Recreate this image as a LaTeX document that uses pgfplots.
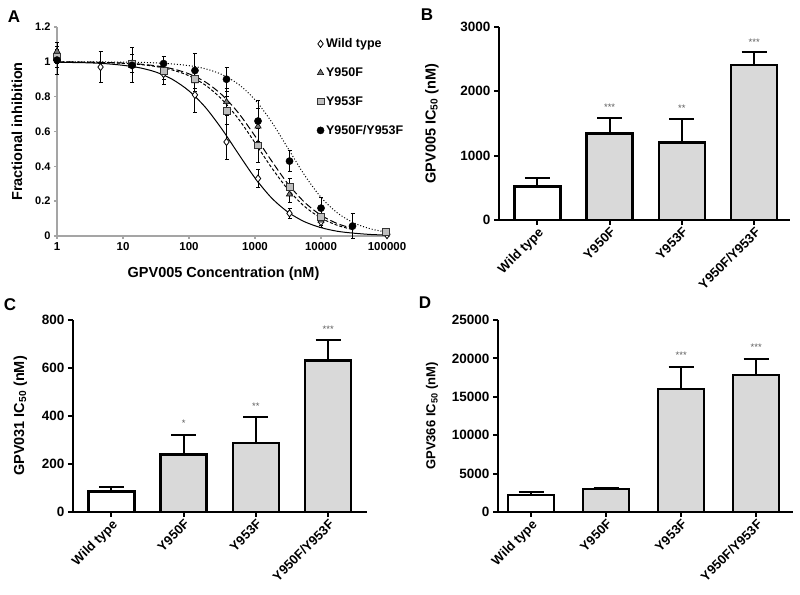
\documentclass[border=0pt]{standalone}
\usepackage{fontspec}
\setmainfont{Liberation Sans}
\usepackage{pgfplots}
\pgfplotsset{compat=1.18}
\definecolor{axgrey}{RGB}{165,165,165}
\definecolor{barfill}{RGB}{217,217,217}
\definecolor{sqfill}{RGB}{190,190,190}
\definecolor{trifill}{RGB}{120,120,120}
\definecolor{stargrey}{RGB}{95,95,95}
\tikzset{stars/.style={text=stargrey, font=\fontsize{9.5}{9.5}\selectfont}}
\pgfplotsset{
  barpanel/.style={
    scale only axis, anchor=south west,
    axis lines=left, axis line style={-, line width=2pt},
    ybar, bar width=46pt, bar shift=0pt,
    xtick={0,1,2,3}, xticklabels={Wild type,Y950F,Y953F,Y950F/Y953F},
    xticklabel style={rotate=45, anchor=north east, font=\bfseries\fontsize{13}{13}\selectfont, inner sep=1pt},
    yticklabel style={font=\bfseries\fontsize{13.5}{13.5}\selectfont},
    tick align=outside, major tick length=5pt, tick style={black, line width=2pt},
    scaled y ticks=false, /pgf/number format/1000 sep={},
    /pgf/number format/assume math mode=true,
    ylabel style={font=\bfseries\fontsize{14.5}{14.5}\selectfont},
    ymin=0, clip=false,
  },
  errb/.style={error bars/.cd, y dir=plus, y explicit,
    error bar style={line width=2.2pt, black},
    error mark options={rotate=90, line width=2.2pt, black, mark size=12.5pt}},
  wtbar/.style={draw=black, line width=2.5pt, fill=white, bar shift=0pt},
  mutbar/.style={draw=black, line width=2.5pt, fill=barfill, bar shift=0pt},
  aerr/.style={error bars/.cd, y dir=both, y explicit,
    error bar style={line width=0.9pt, black},
    error mark options={rotate=90, line width=0.9pt, black, mark size=2pt}},
}
\begin{document}
\begin{tikzpicture}
\useasboundingbox (0,0) rectangle (800pt,594pt);
% ---------------- Panel A ----------------
\begin{axis}[
  at={(57pt,358pt)}, anchor=south west,
  scale only axis, width=333pt, height=209pt,
  xmode=log, xmin=1, xmax=111000, ymin=0, ymax=1.2,
  axis lines=left, axis line style={-, draw=axgrey, line width=2.5pt},
  xtick={1,10,100,1000,10000,100000},
  xticklabels={1,10,100,1000,10000,100000},
  ytick={0,0.2,0.4,0.6,0.8,1,1.2},
  yticklabels={0,0.2,0.4,0.6,0.8,1,1.2},
  xminorticks=false,
  tick align=outside, major tick length=3pt, tick style={draw=axgrey, line width=1.5pt},
  xticklabel style={font=\bfseries\fontsize{11.5}{11.5}\selectfont},
  yticklabel style={font=\bfseries\fontsize{11}{11}\selectfont},
  /pgf/number format/assume math mode=true,
  xlabel={GPV005 Concentration (nM)}, ylabel={Fractional inhibition},
  label style={font=\bfseries\fontsize{14.5}{14.5}\selectfont},
  xlabel style={yshift=-9pt}, ylabel style={yshift=6pt},
  clip=false,
  legend style={draw=none, fill=none, at={(0.78,0.955)}, anchor=north west,
    font=\bfseries\fontsize{12.5}{12.5}\selectfont, row sep=14.5pt, inner sep=0pt},
  legend cell align=left,
]
% fitted curves
\addplot[black, line width=1pt, smooth, forget plot] coordinates {
(1,0.998)(1.778,0.996)(3.162,0.994)(5.623,0.989)(10,0.980)(17.78,0.966)(31.62,0.941)(56.23,0.899)(100,0.833)(177.8,0.738)(316.2,0.613)(562.3,0.471)(1000,0.333)(1778,0.219)(3162,0.137)(5623,0.082)(10000,0.048)(17783,0.027)(31623,0.016)(56234,0.0088)(100000,0.005)};
\addplot[black, line width=1pt, smooth, dash pattern=on 7pt off 3pt, forget plot] coordinates {
(1,0.999)(1.778,0.999)(3.162,0.998)(5.623,0.996)(10,0.993)(17.78,0.987)(31.62,0.977)(56.23,0.960)(100,0.931)(177.8,0.884)(316.2,0.810)(562.3,0.706)(1000,0.574)(1778,0.432)(3162,0.299)(5623,0.194)(10000,0.119)(17783,0.071)(31623,0.041)};
\addplot[black, line width=1pt, smooth, dash pattern=on 3pt off 2pt, forget plot] coordinates {
(1,0.999)(1.778,0.998)(3.162,0.997)(5.623,0.995)(10,0.991)(17.78,0.985)(31.62,0.973)(56.23,0.953)(100,0.920)(177.8,0.866)(316.2,0.784)(562.3,0.672)(1000,0.535)(1778,0.393)(3162,0.267)(5623,0.170)(10000,0.103)(17783,0.061)(31623,0.035)};
\addplot[black, line width=1pt, smooth, dotted, forget plot] coordinates {
(1,1.000)(1.778,1.000)(3.162,1.000)(5.623,0.999)(10,0.998)(17.78,0.997)(31.62,0.994)(56.23,0.988)(100,0.978)(177.8,0.960)(316.2,0.927)(562.3,0.871)(1000,0.782)(1778,0.656)(3162,0.503)(5623,0.350)(10000,0.222)(17783,0.132)(31623,0.075)(56234,0.041)(100000,0.022)};
% data points
\addplot[only marks, mark=diamond*, mark size=3.6pt, mark options={fill=white, draw=black, line width=0.8pt}, aerr] coordinates {
(1,1.02) +- (0,0.05)
(4.57,0.97) +- (0,0.09)
(13.7,0.98) +- (0,0.1)
(41.2,0.93) +- (0,0.06)
(123,0.81) +- (0,0.1)
(370,0.54) +- (0,0.1)
(1111,0.33) +- (0,0.05)
(3333,0.13) +- (0,0.03)
(10000,0.08) +- (0,0.03)
(100000,0.005) +- (0,0.01)};
\addlegendentry{Wild type}
\addplot[only marks, mark=triangle*, mark size=3.6pt, mark options={fill=trifill, draw=black, line width=0.6pt}, aerr] coordinates {
(1,1.06) +- (0,0.05)
(13.7,0.99) +- (0,0.05)
(41.2,0.96) +- (0,0.04)
(123,0.89) +- (0,0.06)
(370,0.77) +- (0,0.08)
(1111,0.63) +- (0,0.1)
(3333,0.24) +- (0,0.05)
(10000,0.09) +- (0,0.03)
(100000,0.02) +- (0,0.01)};
\addlegendentry{Y950F}
\addplot[only marks, mark=square*, mark size=3.4pt, mark options={fill=sqfill, draw=black!80, line width=0.8pt}, aerr] coordinates {
(1,1.03) +- (0,0.04)
(13.7,0.99) +- (0,0.05)
(41.2,0.95) +- (0,0.05)
(123,0.90) +- (0,0.05)
(370,0.72) +- (0,0.08)
(1111,0.52) +- (0,0.1)
(3333,0.28) +- (0,0.05)
(10000,0.11) +- (0,0.04)
(95000,0.025) +- (0,0.01)};
\addlegendentry{Y953F}
\addplot[only marks, mark=*, mark size=3.6pt, mark options={fill=black, draw=black}, aerr] coordinates {
(1,1.01) +- (0,0.08)
(13.7,0.98) +- (0,0.1)
(41.2,0.99) +- (0,0.04)
(123,0.95) +- (0,0.1)
(370,0.90) +- (0,0.07)
(1111,0.66) +- (0,0.12)
(3333,0.43) +- (0,0.06)
(10000,0.16) +- (0,0.06)
(30000,0.057) +- (0,0.07)};
\addlegendentry{Y950F/Y953F}
\end{axis}
% ---------------- Panel B ----------------
\begin{axis}[barpanel, at={(499pt,374pt)}, width=291pt, height=193pt,
  xmin=-0.53, xmax=3.495, ymax=3000, ytick={0,1000,2000,3000},
  ylabel={GPV005 IC\textsubscript{50} (nM)}, ylabel style={yshift=15pt}]
\addplot[wtbar, errb] coordinates {(0,518) +- (0,140)};
\addplot[mutbar, errb] coordinates {(1,1347) +- (0,233) (2,1207) +- (0,363) (3,2409) +- (0,197)};
\node[stars] at (axis cs:1,1756) {***};
\node[stars] at (axis cs:2,1741) {**};
\node[stars] at (axis cs:3,2767) {***};
\end{axis}
% ---------------- Panel C ----------------
\begin{axis}[barpanel, at={(73pt,82pt)}, width=294pt, height=192pt,
  xmin=-0.53, xmax=3.537, ymax=800, ytick={0,200,400,600,800},
  ylabel={GPV031 IC\textsubscript{50} (nM)}, ylabel style={yshift=8pt}]
\addplot[wtbar, errb] coordinates {(0,85) +- (0,20)};
\addplot[mutbar, errb] coordinates {(1,239) +- (0,83) (2,288) +- (0,109) (3,632) +- (0,86)};
\node[stars] at (axis cs:1,371) {*};
\node[stars] at (axis cs:2,439) {**};
\node[stars] at (axis cs:3,763) {***};
\end{axis}
% ---------------- Panel D ----------------
\begin{axis}[barpanel, at={(498pt,82pt)}, width=295pt, height=192pt,
  xmin=-0.44, xmax=3.49, ymax=25000, ytick={0,5000,10000,15000,20000,25000},
  ylabel={GPV366 IC\textsubscript{50} (nM)},
  ylabel style={font=\bfseries\fontsize{13}{13}\selectfont, yshift=7pt}]
\addplot[wtbar, errb] coordinates {(0,2214) +- (0,430)};
\addplot[mutbar, errb] coordinates {(1,2995) +- (0,90) (2,16016) +- (0,2900) (3,17838) +- (0,2120)};
\node[stars] at (axis cs:2,20443) {***};
\node[stars] at (axis cs:3,21393) {***};
\end{axis}
% panel letters
\node[font=\bfseries\fontsize{17}{17}\selectfont] at (14pt,577pt) {A};
\node[font=\bfseries\fontsize{17}{17}\selectfont] at (427pt,579pt) {B};
\node[font=\bfseries\fontsize{17}{17}\selectfont] at (10pt,289pt) {C};
\node[font=\bfseries\fontsize{17}{17}\selectfont] at (425pt,291pt) {D};
\end{tikzpicture}
\end{document}
